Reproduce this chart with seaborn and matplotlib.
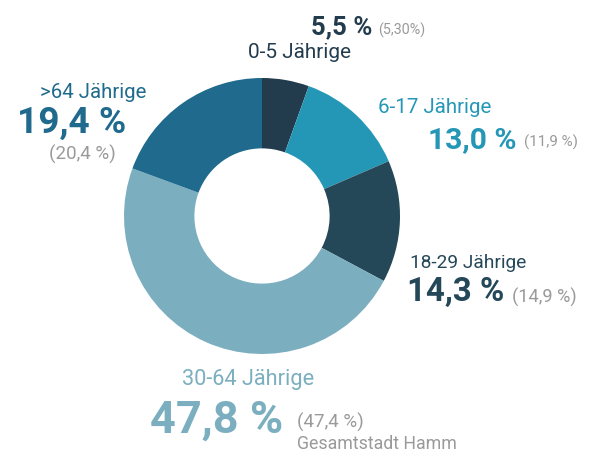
import matplotlib
matplotlib.use("Agg")
import matplotlib.pyplot as plt
import seaborn as sns

categories = ["0-5 Jährige", "6-17 Jährige", "18-29 Jährige", "30-64 Jährige", ">64 Jährige"]
values = [5.5, 13.0, 14.3, 47.8, 19.4]
value_labels = ["5,5 %", "13,0 %", "14,3 %", "47,8 %", "19,4 %"]
city_values = ["(5,30%)", "(11,9 %)", "(14,9 %)", "(47,4 %)", "(20,4 %)"]
city_note = "Gesamtstadt Hamm"
colors = ["#223c4e", "#2597b6", "#254859", "#7bafc0", "#1f6a8d"]

sns.set_theme(style="white")
plt.rcParams['font.family'] = ['Roboto', 'DejaVu Sans']

W, H = 595, 455
fig = plt.figure(figsize=(W / 100, H / 100), dpi=100)
ax = fig.add_axes([0, 0, 1, 1])
ax.axis("off")

cx, cy, R = 262, 216, 138
explode = [0, 0.07, 0, 0, 0]
ax.pie(values, colors=colors, startangle=90, counterclock=False,
       center=(cx, -cy), radius=R, explode=explode,
       wedgeprops=dict(width=R * 0.51, linewidth=0))
ax.set_xlim(0, W)
ax.set_ylim(-H, 0)
ax.set_aspect("equal")

gray = "#9a9a9a"
renderer = fig.canvas.get_renderer()


def t(s, x0, x1, ycap, color, weight="normal", grow=1.04):
    """Place text s with left edge x0, fit to width x1-x0, caps centred at ycap (pixels)."""
    probe = ax.text(0, 0, s, fontsize=20, fontweight=weight)
    w = probe.get_window_extent(renderer).width
    probe.remove()
    size = 20 * (x1 - x0) / w * grow
    size_px = size * 100 / 72
    base = ycap + 0.36 * size_px
    ax.text(x0, -base, s, fontsize=size, color=color, fontweight=weight,
            ha="left", va="baseline")


# 0-5
t(value_labels[0], 311, 372, 25, colors[0], "bold", grow=1.0)
t(city_values[0], 378, 425, 29, gray, grow=1.0)
t(categories[0], 248, 347, 51, colors[0])
# 6-17
t(categories[1], 378, 487, 106, colors[1])
t(value_labels[1], 428, 513, 137, colors[1], "bold")
t(city_values[1], 524, 578, 141, gray, grow=1.0)
# 18-29
t(categories[2], 410, 522, 261, colors[2])
t(value_labels[2], 407, 500, 289, colors[2], "bold")
t(city_values[2], 512, 577, 296, gray, grow=1.0)
# 30-64
t(categories[3], 182, 309, 377, colors[3])
t(value_labels[3], 150, 278, 416, colors[3], "bold")
t(city_values[3], 297, 361, 421, gray)
t(city_note, 297, 456, 443, gray, grow=1.0)
# >64
t(categories[4], 40, 142, 91, colors[4])
t(value_labels[4], 17, 122, 120, colors[4], "bold")
t(city_values[4], 49, 113, 153, gray)

fig.savefig("out.png", dpi=100)
